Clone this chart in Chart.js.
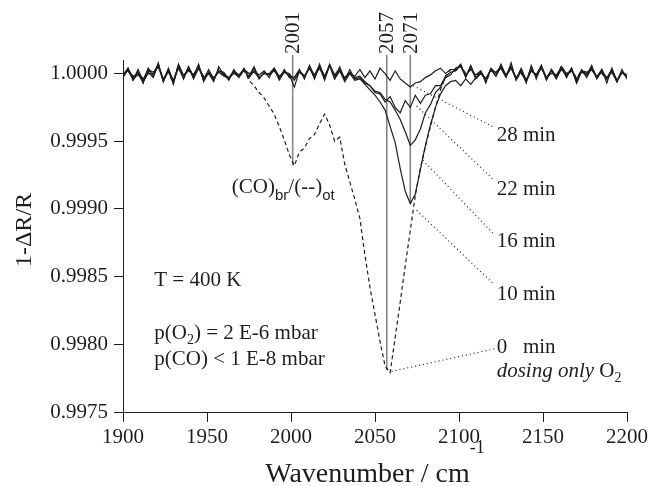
<!DOCTYPE html>
<html>
<head>
<meta charset="utf-8">
<script src="https://cdn.jsdelivr.net/npm/chart.js@4.4.0/dist/chart.umd.min.js"></script>
<style>
  html, body { margin: 0; padding: 0; background: #fff; }
</style>
</head>
<body>
<canvas id="myChart" width="652" height="486"></canvas>
<script>
{
  // wavenumber grid of the spectra, 3 cm-1 steps
  const wavenumbers = [];
  for (let w = 1900; w <= 2200; w += 3) wavenumbers.push(w);

  // 1-dR/R, one value per wavenumber
  const min0 = [
    0.99998, 1.00002, 0.99997, 1.00002, 0.99993, 1.00002, 1.00000, 1.00005, 0.99996, 1.00001,
    0.99993, 1.00007, 0.99996, 1.00004, 0.99999, 1.00004, 0.99998, 1.00000, 0.99995, 1.00004,
    0.99998, 0.99997, 1.00001, 0.99997, 1.00003, 0.99995, 0.99991, 0.99986, 0.99982, 0.99976,
    0.99970, 0.99961, 0.99951, 0.99940, 0.99932, 0.99942, 0.99945, 0.99952, 0.99955, 0.99963,
    0.99970, 0.99962, 0.99950, 0.99953, 0.99933, 0.99920, 0.99907, 0.99893, 0.99866, 0.99842,
    0.99822, 0.99802, 0.99784, 0.99779, 0.99805, 0.99831, 0.99858, 0.99884, 0.99910, 0.99930,
    0.99946, 0.99961, 0.99975, 0.99988, 0.99998, 1.00003,
    1.00002, 1.00006, 1.00000, 1.00003, 0.99998, 1.00002, 0.99994, 1.00002, 1.00001, 1.00005,
    0.99998, 1.00005, 0.99996, 1.00000, 0.99995, 1.00004, 0.99999, 1.00005, 0.99996, 1.00003,
    0.99996, 1.00006, 0.99998, 1.00002, 0.99997, 1.00002, 0.99998, 1.00005, 0.99997, 1.00000,
    0.99996, 1.00003, 0.99995, 1.00001, 0.99998
  ];
  const min10 = [
    0.99999, 1.00004, 0.99995, 1.00001, 0.99996, 1.00001, 0.99997, 1.00008, 0.99994, 1.00002,
    0.99995, 1.00005, 0.99997, 1.00003, 0.99999, 1.00006, 0.99995, 1.00001, 0.99997, 1.00001,
    0.99998, 0.99997, 1.00002, 0.99999, 1.00003, 0.99997, 1.00004, 0.99997, 1.00000, 1.00000,
    1.00004, 0.99995, 1.00001, 0.99999, 0.99990, 1.00002, 0.99998, 1.00004, 0.99997, 1.00005,
    0.99995, 1.00006, 0.99996, 1.00002, 0.99994, 1.00000, 0.99995, 0.99996,
    0.99992, 0.99988, 0.99984, 0.99979, 0.99973, 0.99961, 0.99949, 0.99930, 0.99913, 0.99904,
    0.99911, 0.99929, 0.99947, 0.99962, 0.99975, 0.99985, 0.99991, 0.99994,
    0.99995, 0.99991, 0.99996, 0.99992, 0.99997,
    1.00001, 0.99996, 1.00003, 0.99998, 1.00005, 0.99999, 1.00005, 0.99997, 1.00001, 0.99994,
    1.00002, 0.99999, 1.00005, 0.99996, 1.00003, 0.99998, 1.00004, 0.99998, 1.00004, 0.99993,
    1.00002, 1.00000, 1.00003, 0.99997, 1.00003, 0.99996, 1.00001, 0.99994, 1.00001, 0.99998
  ];
  const min16 = [
    0.99997, 1.00003, 0.99998, 1.00000, 0.99993, 1.00003, 1.00001, 1.00005, 0.99995, 1.00003,
    0.99994, 1.00006, 0.99996, 1.00005, 0.99996, 1.00004, 0.99996, 1.00003, 0.99996, 1.00002,
    1.00000, 0.99995, 1.00003, 0.99997, 1.00003, 1.00000, 1.00001, 0.99997, 1.00000, 0.99999,
    1.00003, 0.99996, 1.00003, 0.99997, 0.99997, 1.00003, 0.99996, 1.00006, 0.99998, 1.00004,
    0.99997, 1.00007, 0.99998, 1.00002, 0.99997, 1.00001, 0.99997, 0.99998,
    0.99994, 0.99991, 0.99987, 0.99986, 0.99981, 0.99979, 0.99973, 0.99966, 0.99957, 0.99947,
    0.99951, 0.99959, 0.99971, 0.99977, 0.99986, 0.99990, 0.99997, 0.99999,
    1.00004, 1.00005, 0.99998, 1.00005, 0.99996, 1.00000, 0.99996, 1.00003, 1.00001, 1.00004,
    0.99998, 1.00005, 0.99996, 1.00004, 0.99995, 1.00003, 0.99998, 1.00004, 0.99997, 1.00002,
    0.99996, 1.00005, 1.00000, 1.00002, 0.99995, 1.00003, 0.99997, 1.00004, 0.99998, 1.00001,
    0.99997, 1.00003, 0.99995, 1.00001, 0.99997
  ];
  const min22 = [
    0.99999, 1.00002, 0.99996, 0.99999, 0.99995, 1.00004, 0.99998, 1.00006, 0.99996, 1.00002,
    0.99992, 1.00007, 0.99999, 1.00002, 0.99999, 1.00005, 0.99997, 1.00000, 0.99994, 1.00005,
    0.99999, 0.99997, 1.00000, 0.99998, 1.00004, 0.99997, 1.00002, 0.99999, 1.00002, 0.99997,
    1.00004, 0.99998, 1.00001, 1.00000, 0.99995, 1.00001, 0.99998, 1.00004, 0.99999, 1.00006,
    0.99998, 1.00006, 0.99996, 1.00005, 0.99995, 1.00003, 0.99996, 0.99997,
    0.99993, 0.99991, 0.99986, 0.99985, 0.99979, 0.99983, 0.99975, 0.99971, 0.99980, 0.99975,
    0.99984, 0.99978, 0.99984, 0.99985, 0.99991, 0.99991, 0.99998, 1.00001,
    1.00002, 1.00006, 0.99999, 1.00003, 0.99999, 1.00002, 0.99993, 1.00004, 1.00000, 1.00004,
    0.99997, 1.00008, 0.99995, 1.00002, 0.99995, 1.00002, 0.99999, 1.00006, 0.99995, 1.00002,
    0.99997, 1.00003, 0.99999, 1.00003, 0.99996, 1.00001, 0.99999, 1.00006, 0.99996, 1.00002,
    0.99996, 1.00002, 0.99994, 1.00003, 0.99996
  ];
  const min28 = [
    0.99998, 1.00004, 0.99995, 1.00003, 0.99994, 1.00000, 1.00000, 1.00007, 0.99994, 1.00004,
    0.99994, 1.00004, 0.99997, 1.00005, 0.99997, 1.00007, 0.99994, 1.00001, 0.99996, 1.00002,
    1.00001, 0.99996, 1.00001, 0.99998, 1.00002, 0.99998, 1.00005, 0.99996, 1.00001, 0.99999,
    1.00002, 0.99997, 1.00002, 0.99998, 0.99997, 1.00002, 0.99998, 1.00005, 0.99996, 1.00007,
    0.99996, 1.00006, 0.99999, 1.00004, 0.99996, 1.00000, 0.99998, 1.00003,
    0.99997, 1.00002, 0.99996, 1.00004, 1.00000, 0.99995, 1.00002, 0.99996, 0.99993, 0.99990,
    0.99993, 0.99994, 0.99997, 0.99999, 1.00002, 1.00004, 1.00000, 1.00003,
    1.00003, 1.00007, 0.99997, 1.00006, 0.99997, 1.00000, 0.99996, 1.00003, 0.99998, 1.00007,
    0.99998, 1.00004, 0.99996, 1.00003, 0.99993, 1.00006, 0.99996, 1.00006, 0.99997, 1.00000,
    0.99999, 1.00005, 0.99997, 1.00004, 0.99993, 1.00002, 1.00001, 1.00003, 0.99997, 1.00003,
    0.99993, 1.00004, 0.99994, 1.00001, 0.99999
  ];

  const xTicks = [1900, 1950, 2000, 2050, 2100, 2150, 2200];
  const yTicks = [0.9975, 0.998, 0.9985, 0.999, 0.9995, 1.0];

  // marked band positions and the depth the marker line reaches
  const peaks = [2001, 2057, 2071];
  const peakDepth = [0.99932, 0.99781, 0.99904];

  // time labels, and the leader lines that tie them to the curves
  const timeLabels = ['28 min', '22 min', '16 min', '10 min', '0   min'];
  const leaderFrom = [[2072.8, 0.99991], [2074.8, 0.99976], [2078.5, 0.99936], [2074.8, 0.99899], [2059.9, 0.9978]];
  const leaderTo = [[2121.3, 0.9996], [2120.2, 0.99922], [2120.2, 0.99882], [2120.2, 0.99845], [2122.4, 0.99797]];

  const ink = '#1e1e1e';
  const serif = '"Liberation Serif", "Times New Roman", serif';

  const toPoints = (values) => values.map((v, i) => ({ x: wavenumbers[i], y: v }));

  const curve = (label, values, dashed) => ({
    label,
    data: toPoints(values),
    borderColor: ink,
    borderWidth: 1.2,
    borderDash: dashed ? [4, 3] : [],
    pointRadius: 0,
    tension: 0,
  });

  const leaders = leaderFrom.map((from, i) => ({
    label: 'leader ' + timeLabels[i],
    data: [{ x: from[0], y: from[1] }, { x: leaderTo[i][0], y: leaderTo[i][1] }],
    borderColor: ink,
    borderWidth: 1.2,
    borderDash: [1, 3],
    pointRadius: 0,
  }));

  // writes text pieces one after the other (for sub / superscripts)
  const drawParts = (ctx, x, y, parts) => {
    let cx = x;
    for (const p of parts) {
      ctx.font = p.font;
      ctx.fillText(p.text, cx, y + (p.dy || 0));
      cx += ctx.measureText(p.text).width;
    }
    return cx;
  };

  const partsWidth = (ctx, parts) => {
    let w = 0;
    for (const p of parts) {
      ctx.font = p.font;
      w += ctx.measureText(p.text).width;
    }
    return w;
  };

  const markers = {
    id: 'markers',
    beforeDatasetsDraw(chart) {
      const { ctx, chartArea, scales: { x, y } } = chart;
      ctx.save();
      peaks.forEach((p, i) => {
        const px = x.getPixelForValue(p);
        ctx.strokeStyle = '#858585';
        ctx.lineWidth = 1.6;
        ctx.beginPath();
        ctx.moveTo(px, chartArea.top - 5);
        ctx.lineTo(px, y.getPixelForValue(peakDepth[i]));
        ctx.stroke();
      });
      ctx.restore();
    },
    afterDraw(chart) {
      const { ctx, chartArea, scales: { x, y } } = chart;
      const at = (w, v) => [x.getPixelForValue(w), y.getPixelForValue(v)];
      const f21 = '21px ' + serif;
      ctx.save();
      ctx.fillStyle = ink;

      // peak labels, rotated
      peaks.forEach((p) => {
        ctx.save();
        ctx.translate(x.getPixelForValue(p), chartArea.top - 6);
        ctx.rotate(-Math.PI / 2);
        ctx.font = f21;
        ctx.textAlign = 'left';
        ctx.textBaseline = 'middle';
        ctx.fillText(String(p), 0, 1);
        ctx.restore();
      });

      ctx.textAlign = 'left';
      ctx.textBaseline = 'alphabetic';

      // band assignment
      const sans = '15px "Liberation Sans", Arial, sans-serif';
      const [bx, by] = at(1964.8, 0.99912);
      drawParts(ctx, bx, by, [
        { text: '(CO)', font: f21 },
        { text: 'br', font: sans, dy: 7 },
        { text: '/(--)', font: f21 },
        { text: 'ot', font: sans, dy: 7 },
      ]);

      // conditions
      let [tx, ty] = at(1918.6, 0.998432);
      ctx.font = f21;
      ctx.fillText('T = 400 K', tx, ty);
      [tx, ty] = at(1918.6, 0.99804);
      drawParts(ctx, tx, ty, [
        { text: 'p(O', font: f21 },
        { text: '2', font: '14px ' + serif, dy: 5 },
        { text: ') = 2 E-6 mbar', font: f21 },
      ]);
      [tx, ty] = at(1918.6, 0.997848);
      ctx.font = f21;
      ctx.fillText('p(CO) < 1 E-8 mbar', tx, ty);

      // time labels
      const labelY = [0.999504, 0.999105, 0.99872, 0.998328, 0.997936];
      timeLabels.forEach((t, i) => {
        const [lx, ly] = at(2122.4, labelY[i]);
        ctx.font = f21;
        ctx.fillText(t, lx, ly);
      });
      const [dx, dy] = at(2122.4, 0.99776);
      drawParts(ctx, dx, dy, [
        { text: 'dosing only ', font: 'italic 21px ' + serif },
        { text: 'O', font: f21 },
        { text: '2', font: '14px ' + serif, dy: 5 },
      ]);

      // axis titles
      const xTitle = [
        { text: 'Wavenumber / cm', font: '28px ' + serif },
        { text: '-1', font: '18px ' + serif, dy: -29 },
      ];
      const cx = (chartArea.left + chartArea.right) / 2;
      drawParts(ctx, cx - partsWidth(ctx, xTitle) / 2, 482, xTitle);

      ctx.save();
      ctx.translate(25, (chartArea.top + chartArea.bottom) / 2 - 6);
      ctx.rotate(-Math.PI / 2);
      ctx.font = '24px ' + serif;
      ctx.textAlign = 'center';
      ctx.textBaseline = 'middle';
      ctx.fillText('1-\u0394R/R', 0, 0);
      ctx.restore();

      ctx.restore();
    },
  };

  const tickFont = { family: 'Liberation Serif', size: 21 };

  const initChart = () => {
    const ctx = document.getElementById('myChart').getContext('2d');

    // eslint-disable-next-line no-undef
    const chart = new Chart(ctx, {
      type: 'line',
      data: {
        datasets: [
          curve('0 min', min0, true),
          curve('10 min', min10),
          curve('16 min', min16),
          curve('22 min', min22),
          curve('28 min', min28),
          ...leaders,
        ],
      },
      options: {
        responsive: false,
        animation: false,
        events: [],
        layout: { padding: { left: 0, right: 25, top: 60, bottom: 0 } },
        plugins: { legend: { display: false }, tooltip: { enabled: false } },
        scales: {
          x: {
            type: 'linear',
            min: 1900,
            max: 2200,
            afterBuildTicks: (s) => { s.ticks = xTicks.map((v) => ({ value: v })); },
            afterFit: (s) => { s.height = 74; },
            grid: { drawOnChartArea: false, drawTicks: true, tickLength: 10, color: ink },
            border: { color: ink, width: 1 },
            ticks: { font: tickFont, color: ink, padding: 3, maxRotation: 0, callback: (v) => String(v) },
          },
          y: {
            type: 'linear',
            min: 0.9975,
            max: 1.0001,
            afterBuildTicks: (s) => { s.ticks = yTicks.map((v) => ({ value: v })); },
            afterFit: (s) => { s.width = 123; },
            grid: { drawOnChartArea: false, drawTicks: true, tickLength: 9, color: ink },
            border: { color: ink, width: 1 },
            ticks: { font: tickFont, color: ink, padding: 6, callback: (v) => v.toFixed(4) },
          },
        },
      },
      plugins: [markers],
    });
  };

  initChart();
}
</script>
</body>
</html>
